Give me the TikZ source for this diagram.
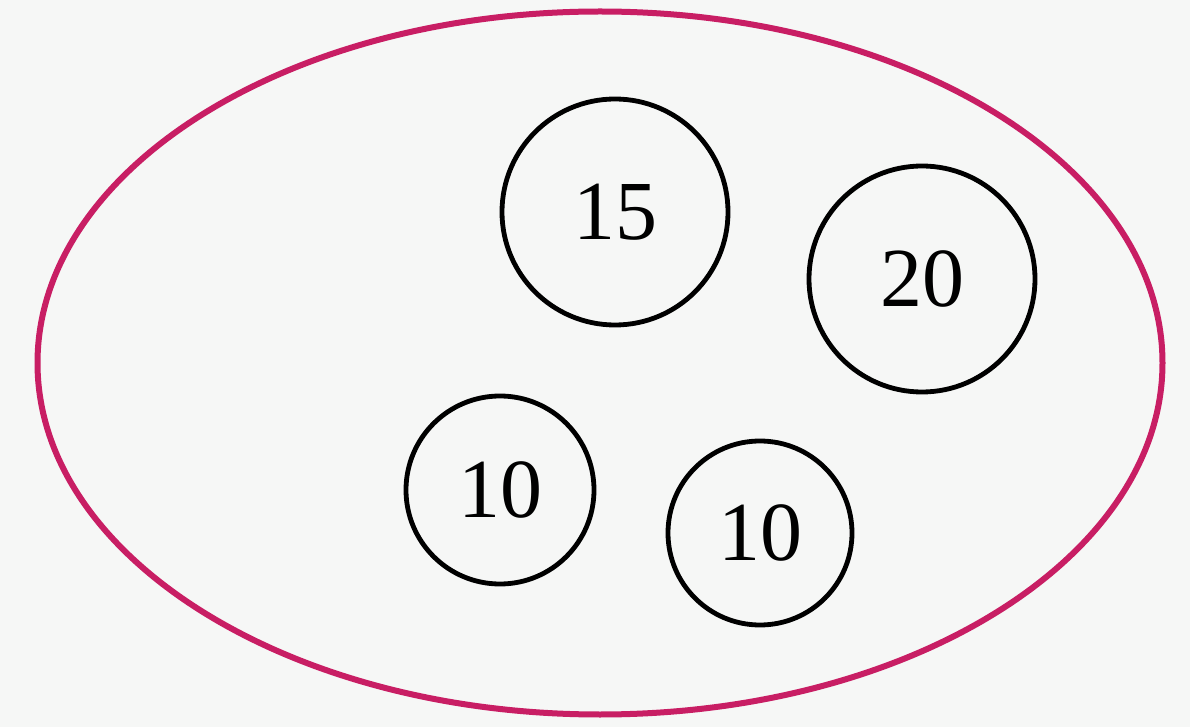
\documentclass[tikz,border=0pt]{standalone}
\usepackage{fontspec}
\setmainfont{Liberation Serif}
\usetikzlibrary{shapes.geometric}
\definecolor{rim}{RGB}{200,30,100}
\definecolor{paper}{RGB}{246,247,246}
\begin{document}
\begin{tikzpicture}[x=0.5pt,y=-0.5pt,
  num/.style={circle,draw=black,line width=2.4pt,inner sep=0pt,font=\fontsize{42}{42}\selectfont},
  big/.style={num,minimum size=113pt},
  small/.style={num,minimum size=94pt}]
\fill[paper] (0,0) rectangle (1190,727);
\useasboundingbox (0,0) rectangle (1190,727);
\node[ellipse,draw=rim,line width=3pt,minimum width=562.5pt,minimum height=351.5pt,inner sep=0pt] (set) at (600,363) {};
\node[big] (a) at (615,212) {15};
\node[big] (b) at (922,279) {20};
\node[small] (c) at (500,490) {10};
\node[small,minimum size=92pt] (d) at (760,533) {10};
\end{tikzpicture}
\end{document}
